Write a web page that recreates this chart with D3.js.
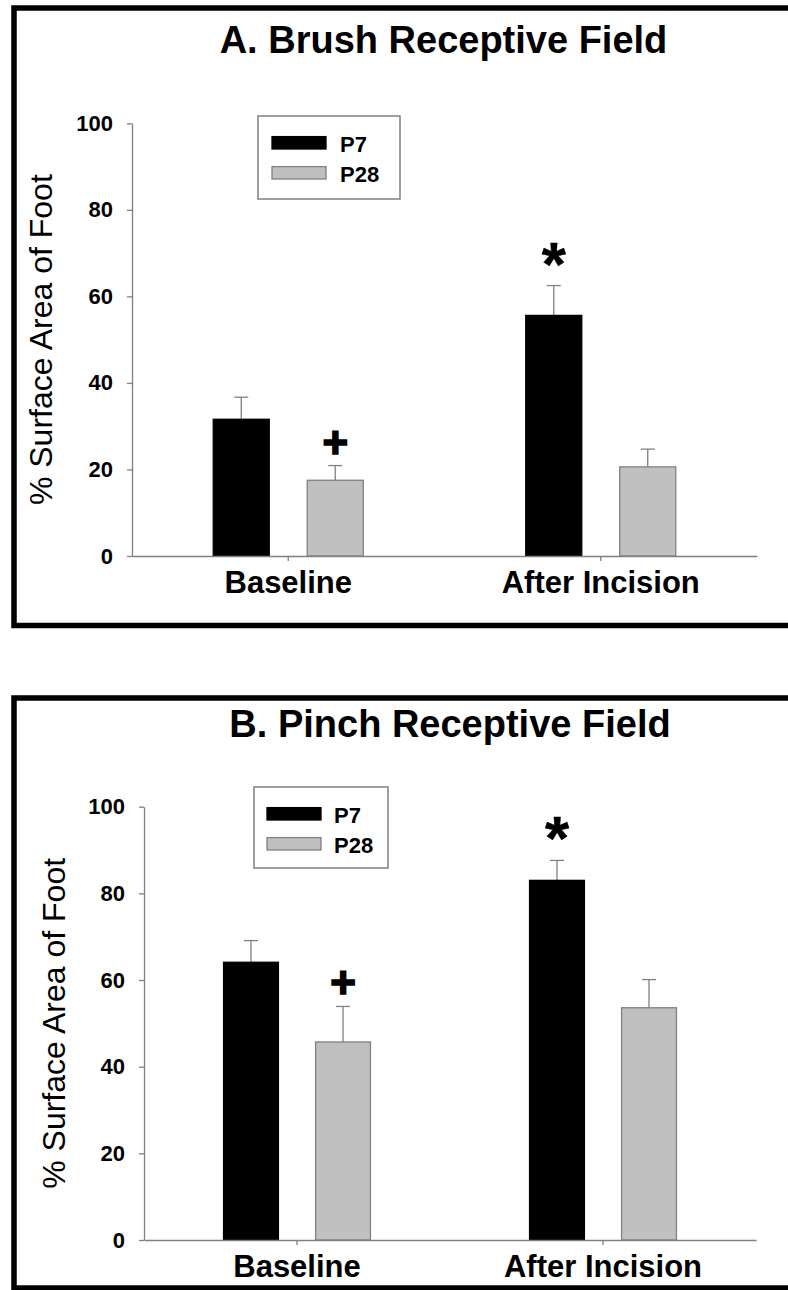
<!doctype html>
<html>
  <head>
    <meta charset="utf-8">
    <title>Receptive Field</title>
    <script src="https://d3js.org/d3.v7.min.js"></script>
    <style>
      body { margin: 0; background: #fff; }
      text { font-family: Arial, "Liberation Sans", sans-serif; }
    </style>
  </head>
  <body>
    <script>
      // categories and series
      const groups = ['Baseline', 'After Incision'];
      const series = ['P7', 'P28'];
      const yTicks = [0, 20, 40, 60, 80, 100];

      // A. brush receptive field (mean and SEM)
      const brushP7 = [31.6, 55.6];
      const brushP7Sem = [5.1, 6.9];
      const brushP28 = [17.5, 20.6];
      const brushP28Sem = [3.4, 4.1];

      // B. pinch receptive field (mean and SEM)
      const pinchP7 = [64.1, 83.0];
      const pinchP7Sem = [5.0, 4.6];
      const pinchP28 = [45.7, 53.6];
      const pinchP28Sem = [8.2, 6.5];

      // significance marks per group
      const p7Marks = ['', '*'];
      const p28Marks = ['+', ''];

      const colors = { P7: '#000000', P28: '#c0c0c0' };
      const outline = { P7: '#000000', P28: '#808080' };
      const axisColor = '#808080';

      const width = 788;
      const height = 1290;

      const svg = d3.select('body').append('svg')
          .attr('width', width)
          .attr('height', height);

      const panels = [
        {
          title: 'A. Brush Receptive Field', titleX: 443.5, titleY: 53,
          frameTop: 8, frameBottom: 625.5,
          left: 132, right: 757, top: 123.3, bottom: 556, labelX: 52,
          legend: { x: 258, y: 116, w: 142, h: 83, sx: 272, tx: 340 },
          p7: brushP7, p7Sem: brushP7Sem, p28: brushP28, p28Sem: brushP28Sem
        },
        {
          title: 'B. Pinch Receptive Field', titleX: 450, titleY: 737,
          frameTop: 698, frameBottom: 1288,
          left: 144, right: 756, top: 806.7, bottom: 1240, labelX: 65,
          legend: { x: 254, y: 787, w: 134, h: 81, sx: 267, tx: 334 },
          p7: pinchP7, p7Sem: pinchP7Sem, p28: pinchP28, p28Sem: pinchP28Sem
        }
      ];

      panels.forEach(p => {
        const g = svg.append('g');

        // frame (right edge is cut off in the original)
        g.append('rect')
            .attr('x', 14)
            .attr('y', p.frameTop)
            .attr('width', width)
            .attr('height', p.frameBottom - p.frameTop)
            .attr('fill', 'none')
            .attr('stroke', '#000')
            .attr('stroke-width', 5.5);

        g.append('text')
            .attr('x', p.titleX)
            .attr('y', p.titleY)
            .attr('text-anchor', 'middle')
            .attr('font-size', 38)
            .attr('font-weight', 'bold')
            .text(p.title);

        const x0 = d3.scaleBand()
            .domain(groups)
            .range([p.left, p.right]);

        const half = x0.bandwidth() * 0.24;
        const x1 = d3.scaleBand()
            .domain(series)
            .range([x0.bandwidth() / 2 - half, x0.bandwidth() / 2 + half])
            .paddingInner(0.404);

        const y = d3.scaleLinear()
            .domain([0, 100])
            .range([p.bottom, p.top]);

        const rows = [];
        groups.forEach((grp, i) => {
          rows.push({ group: grp, key: 'P7', value: p.p7[i], sem: p.p7Sem[i], mark: p7Marks[i] });
          rows.push({ group: grp, key: 'P28', value: p.p28[i], sem: p.p28Sem[i], mark: p28Marks[i] });
        });

        const cx = d => x0(d.group) + x1(d.key) + x1.bandwidth() / 2;

        // error bars (upper only)
        const err = g.append('g')
            .attr('stroke', axisColor)
            .attr('stroke-width', 1.3);
        err.selectAll('line.v')
          .data(rows)
          .enter().append('line')
            .attr('class', 'v')
            .attr('x1', cx)
            .attr('x2', cx)
            .attr('y1', d => y(d.value))
            .attr('y2', d => y(d.value + d.sem));
        err.selectAll('line.cap')
          .data(rows)
          .enter().append('line')
            .attr('class', 'cap')
            .attr('x1', d => cx(d) - 7)
            .attr('x2', d => cx(d) + 7)
            .attr('y1', d => y(d.value + d.sem))
            .attr('y2', d => y(d.value + d.sem));

        // bars
        g.append('g')
          .selectAll('rect')
          .data(rows)
          .enter().append('rect')
            .attr('x', d => x0(d.group) + x1(d.key))
            .attr('y', d => y(d.value))
            .attr('width', x1.bandwidth())
            .attr('height', d => y(0) - y(d.value))
            .attr('fill', d => colors[d.key])
            .attr('stroke', d => outline[d.key])
            .attr('stroke-width', 1.3);

        // significance marks
        g.append('g')
          .selectAll('text')
          .data(rows.filter(d => d.mark))
          .enter().append('text')
            .attr('x', cx)
            .attr('y', d => d.mark === '*'
                ? y(d.value + d.sem) - 31 + 30
                : y(d.value + d.sem) - 23 + 15)
            .attr('text-anchor', 'middle')
            .attr('font-weight', 'bold')
            .attr('font-size', d => d.mark === '*' ? 62 : 44)
            .attr('stroke', '#000')
            .attr('stroke-width', d => d.mark === '*' ? 0.5 : 1.6)
            .text(d => d.mark);

        // y axis
        const yAxis = g.append('g')
            .attr('transform', `translate(${p.left},0)`)
            .call(d3.axisLeft(y).tickValues(yTicks).tickSize(5).tickSizeOuter(0).tickPadding(14));
        yAxis.select('.domain').attr('stroke', axisColor).attr('stroke-width', 1.3);
        yAxis.selectAll('.tick line').attr('stroke', axisColor).attr('stroke-width', 1.3);
        yAxis.selectAll('.tick text')
            .attr('font-size', 22)
            .attr('font-weight', 'bold')
            .attr('font-family', 'Arial, "Liberation Sans", sans-serif')
            .attr('fill', '#000');

        // x axis
        const xAxis = g.append('g')
            .attr('transform', `translate(0,${p.bottom})`)
            .call(d3.axisBottom(x0).tickSize(5).tickSizeOuter(0));
        xAxis.select('.domain').attr('stroke', axisColor).attr('stroke-width', 1.3);
        xAxis.selectAll('.tick line').attr('stroke', axisColor).attr('stroke-width', 1.3);
        xAxis.selectAll('.tick text')
            .attr('y', 37)
            .attr('dy', null)
            .attr('font-size', 31)
            .attr('font-weight', 'bold')
            .attr('font-family', 'Arial, "Liberation Sans", sans-serif')
            .attr('fill', '#000');

        // y axis title
        g.append('text')
            .attr('transform', `translate(${p.labelX},${(p.top + p.bottom) / 2}) rotate(-90)`)
            .attr('text-anchor', 'middle')
            .attr('font-size', 32)
            .text('% Surface Area of Foot');

        // legend
        const lg = g.append('g');
        lg.append('rect')
            .attr('x', p.legend.x)
            .attr('y', p.legend.y)
            .attr('width', p.legend.w)
            .attr('height', p.legend.h)
            .attr('fill', '#fff')
            .attr('stroke', axisColor)
            .attr('stroke-width', 1.5);
        series.forEach((s, i) => {
          const cy = p.legend.y + 26.8 + i * 30;
          lg.append('rect')
              .attr('x', p.legend.sx)
              .attr('y', cy - 6.2)
              .attr('width', 54)
              .attr('height', 12.4)
              .attr('fill', colors[s])
              .attr('stroke', outline[s])
              .attr('stroke-width', 1.3);
          lg.append('text')
              .attr('x', p.legend.tx)
              .attr('y', cy + 8.7)
              .attr('font-size', 22)
              .attr('font-weight', 'bold')
              .text(s);
        });
      });
    </script>
  </body>
</html>
